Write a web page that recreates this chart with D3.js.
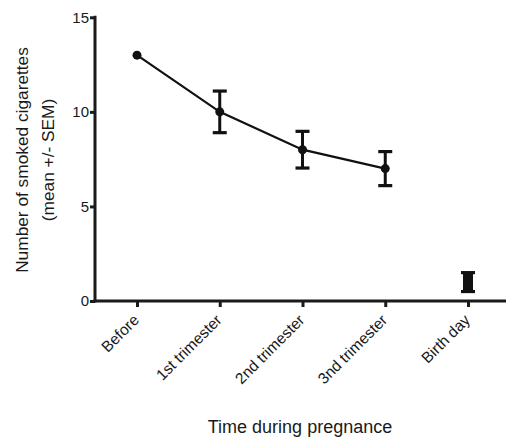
<!DOCTYPE html>
<html><head><meta charset="utf-8">
<script src="https://cdn.jsdelivr.net/npm/d3@7"></script>
<style>body{margin:0;background:#fff}svg{display:block}</style>
</head><body>
<svg id="c" width="506" height="439"></svg>
<script>
const categories = ["Before","1st trimester","2nd trimester","3nd trimester","Birth day"];
const means = [13, 10, 8, 7, 1];
const sems = [0.1, 1.1, 0.97, 0.9, 0.5];
const connected = [true, true, true, true, false];
const yTicks = [0, 5, 10, 15];

const svg = d3.select("#c");
const font = "Liberation Sans, Arial, sans-serif";
const ink = "#1a1a1a";
const x = d3.scalePoint().domain(categories).range([137, 468]);
const y = d3.scaleLinear().domain([0, 15]).range([301, 17.3]);

// axes
const yAxis = svg.append("g").attr("transform","translate(95,0)")
  .call(d3.axisLeft(y).tickValues(yTicks).tickSize(5).tickPadding(1).tickFormat(d3.format("d")));
const xAxis = svg.append("g").attr("transform","translate(0,301)")
  .call(d3.axisBottom(x).tickSize(6).tickFormat(""));
[yAxis, xAxis].forEach(g => {
  g.select(".domain").remove();
  g.selectAll(".tick line").attr("stroke",ink).attr("stroke-width",3);
});
yAxis.selectAll(".tick text").attr("font-family",font).attr("font-size",15).attr("fill",ink);
svg.append("line").attr("x1",95).attr("x2",95).attr("y1",y(15)-1.5).attr("y2",y(0)+1.5).attr("stroke",ink).attr("stroke-width",3);
svg.append("line").attr("x1",93.5).attr("x2",506).attr("y1",y(0)).attr("y2",y(0)).attr("stroke",ink).attr("stroke-width",3);

// x tick labels
categories.forEach(c => {
  svg.append("text").attr("font-family",font).attr("font-size",15.5).attr("fill",ink)
    .attr("text-anchor","end")
    .attr("transform",`translate(${x(c)+3},${y(0)+20}) rotate(-45)`)
    .text(c);
});

// line
const lineData = categories.map((c,i)=>({c,m:means[i]})).filter((d,i)=>connected[i]);
svg.append("path").datum(lineData)
  .attr("d", d3.line().x(d=>x(d.c)).y(d=>y(d.m)))
  .attr("fill","none").attr("stroke","#111").attr("stroke-width",2.2);

// error bars
categories.forEach((c,i) => {
  const cx = x(c), lo = y(means[i]-sems[i]), hi = y(means[i]+sems[i]);
  if (sems[i] > 0.2) {
    svg.append("line").attr("x1",cx).attr("x2",cx).attr("y1",lo).attr("y2",hi).attr("stroke","#111").attr("stroke-width",3);
    [lo,hi].forEach(yy => svg.append("line").attr("x1",cx-7).attr("x2",cx+7).attr("y1",yy).attr("y2",yy).attr("stroke","#111").attr("stroke-width",3.2));
  }
  if (!connected[i]) {
    svg.append("rect").attr("x",cx-5).attr("y",hi).attr("width",10).attr("height",lo-hi).attr("fill","#111");
  }
  svg.append("circle").attr("cx",cx).attr("cy",y(means[i])).attr("r",4.5).attr("fill","#111");
});

// axis titles
svg.append("text").attr("font-family",font).attr("font-size",17.3).attr("fill",ink)
  .attr("text-anchor","middle").attr("transform","translate(28,160) rotate(-90)")
  .text("Number of smoked cigarettes");
svg.append("text").attr("font-family",font).attr("font-size",17.3).attr("fill",ink)
  .attr("text-anchor","middle").attr("transform","translate(54,160) rotate(-90)")
  .text("(mean +/- SEM)");
svg.append("text").attr("font-family",font).attr("font-size",18).attr("fill",ink)
  .attr("text-anchor","middle").attr("x",300).attr("y",433)
  .text("Time during pregnance");
</script>
</body></html>
